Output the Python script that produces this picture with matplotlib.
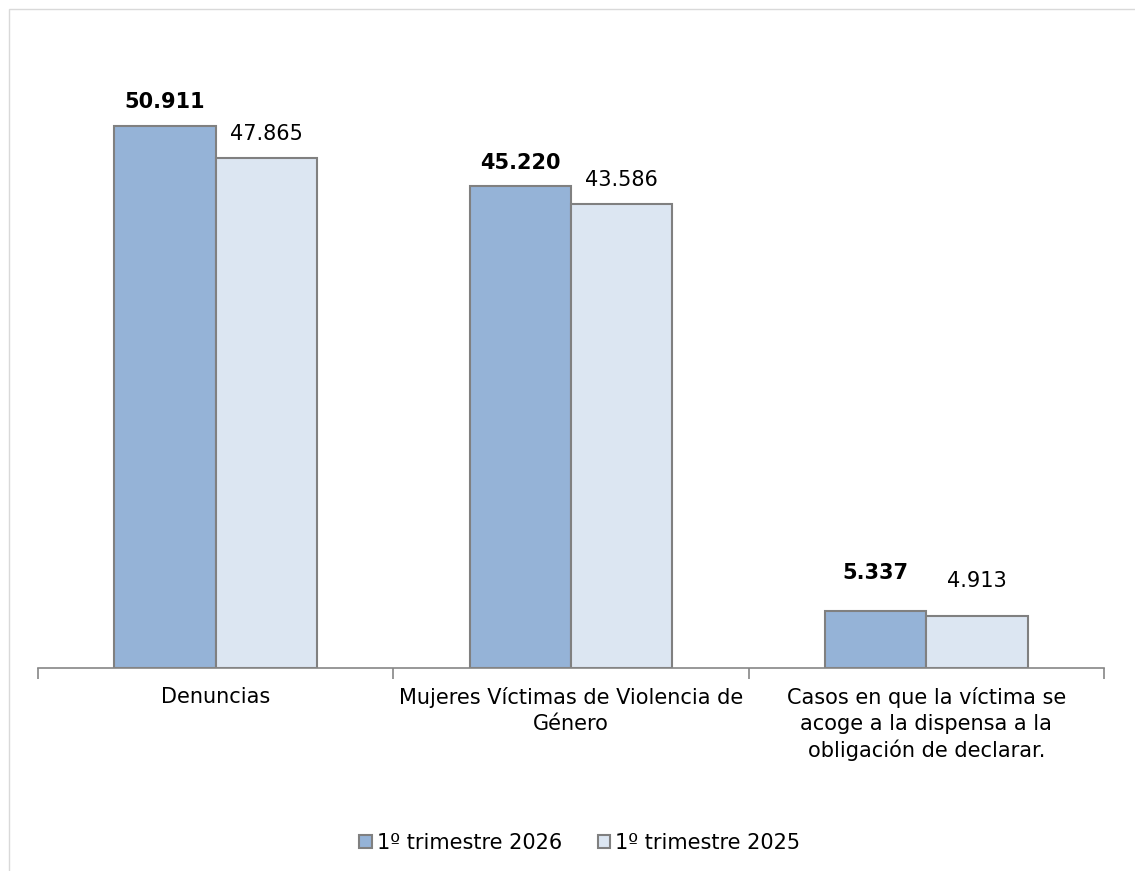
import matplotlib.pyplot as plt
from matplotlib.patches import Rectangle
import numpy as np

categorias = ["Denuncias",
              "Mujeres Víctimas de Violencia de\nGénero",
              "Casos en que la víctima se\nacoge a la dispensa a la\nobligación de declarar."]
serie_2026 = [50911, 45220, 5337]
serie_2025 = [47865, 43586, 4913]
etiquetas_2026 = ["50.911", "45.220", "5.337"]
etiquetas_2025 = ["47.865", "43.586", "4.913"]
nombres = ["1º trimestre 2026", "1º trimestre 2025"]

plt.rcParams['font.family'] = ['DejaVu Sans']
W, H = 1135, 871
fig = plt.figure(figsize=(W / 100, H / 100), dpi=100)

# borde exterior del gráfico (cortado a la derecha y abajo)
fig.patches.append(Rectangle((9 / W, -0.1), 1.2, 1 - 9 / H + 0.1,
                             transform=fig.transFigure, fill=False,
                             edgecolor='#d9d9d9', linewidth=1))

ax = fig.add_axes([38 / W, (H - 668) / H, (1104 - 38) / W, (668 - 29) / H])

x = np.arange(len(categorias))
ancho = 0.285
b1 = ax.bar(x - ancho / 2, serie_2026, ancho, color='#95b3d7',
            edgecolor='#808080', linewidth=1.5, label=nombres[0])
b2 = ax.bar(x + ancho / 2, serie_2025, ancho, color='#dce6f2',
            edgecolor='#808080', linewidth=1.5, label=nombres[1])

fs = 15
# la última categoría tiene las etiquetas algo más separadas de la barra
desplaz = [10, 10, 20]
for rect, txt, d in zip(b1, etiquetas_2026, desplaz):
    ax.annotate(txt, (rect.get_x() + rect.get_width() / 2, rect.get_height()),
                xytext=(0, d), textcoords='offset points', ha='center',
                va='bottom', fontsize=fs, fontweight='bold')
for rect, txt, d in zip(b2, etiquetas_2025, desplaz):
    ax.annotate(txt, (rect.get_x() + rect.get_width() / 2, rect.get_height()),
                xytext=(0, d - 2 if d > 10 else d), textcoords='offset points',
                ha='center', va='bottom', fontsize=fs)

ax.set_xlim(-0.5, len(categorias) - 0.5)
ax.set_ylim(0, 60000)
ax.set_yticks([])
for s in ['top', 'right', 'left']:
    ax.spines[s].set_visible(False)
ax.spines['bottom'].set_color('#868686')
ax.spines['bottom'].set_linewidth(1.2)

ax.set_xticks(x)
ax.set_xticklabels(categorias, fontsize=fs, linespacing=1.32)
ax.tick_params(axis='x', which='major', length=0, pad=14)
ax.set_xticks(np.arange(len(categorias) + 1) - 0.5, minor=True)
ax.tick_params(axis='x', which='minor', length=8, color='#868686', width=1.2)

fig.legend(loc='center', bbox_to_anchor=(580 / W, 1 - 843 / H), ncol=2,
           frameon=False, fontsize=fs, handlelength=0.6, handleheight=0.6,
           handletextpad=0.25, columnspacing=1.7)

fig.savefig("out.png", dpi=100, facecolor='white')
